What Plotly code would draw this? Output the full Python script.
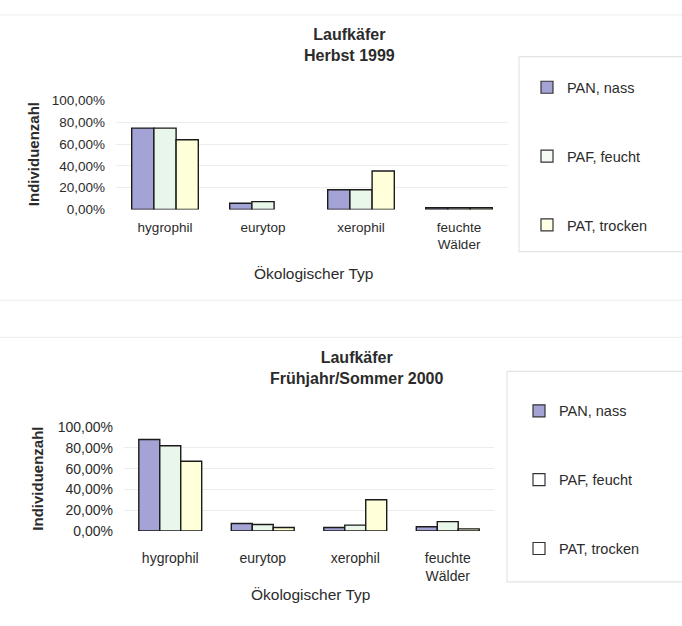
import plotly.graph_objects as go

W, H = 682, 626

categories = ["hygrophil", "eurytop", "xerophil", "feuchte<br>Wälder"]
series_names = ["PAN, nass", "PAF, feucht", "PAT, trocken"]

# Anteile je ökologischem Typ, Herbst 1999 (None = keine Tiere)
herbst_1999 = {
    "PAN, nass":    [0.747, 0.057, 0.180, 0.015],
    "PAF, feucht":  [0.747, 0.072, 0.180, 0.015],
    "PAT, trocken": [0.640, None, 0.353, 0.015],
}
# Anteile je ökologischem Typ, Frühjahr/Sommer 2000
sommer_2000 = {
    "PAN, nass":    [0.880, 0.072, 0.034, 0.040],
    "PAF, feucht":  [0.820, 0.063, 0.056, 0.090],
    "PAT, trocken": [0.670, 0.034, 0.300, 0.020],
}

bar_colors = {"PAN, nass": "#a3a3d6", "PAF, feucht": "#e9f6ea", "PAT, trocken": "#ffffd9"}
swatch_top = {"PAN, nass": "#a3a3d6", "PAF, feucht": "#f4faf4", "PAT, trocken": "#ffffe6"}
swatch_bottom = {"PAN, nass": "#a3a3d6", "PAF, feucht": "#ffffff", "PAT, trocken": "#ffffff"}

TXT = "#2b2b2b"
FONT = "Liberation Sans, Arial, sans-serif"


def px_x(x):
    return x / W


def px_y(y):
    return 1 - y / H


fig = go.Figure()

panels = [
    # data, x axis, y axis, legend, x-px domain, y-px (0 %, 100 %), swatches,
    # tick font size, category label standoff
    (herbst_1999, "x", "y", "legend", (116, 508), (206.7, 95.0), swatch_top, 13.5, 8),
    (sommer_2000, "x2", "y2", "legend2", (124, 494), (536.7, 430.0), swatch_bottom, 14, 17),
]

for data, xa, ya, lg, _, _, swatch, _, _ in panels:
    for name in series_names:
        fig.add_trace(go.Bar(
            x=categories, y=data[name], name=name,
            xaxis=xa, yaxis=ya, showlegend=False, offsetgroup=name,
            marker=dict(color=bar_colors[name], line=dict(color="#1a1a1a", width=1.4)),
        ))
    # legend entries with the swatch shading of each box
    for name in series_names:
        fig.add_trace(go.Bar(
            x=[None], y=[None], name=name, xaxis=xa, yaxis=ya, legend=lg,
            offsetgroup=name,
            marker=dict(color=swatch[name], line=dict(color="#333333", width=1.2)),
            legendgroup=lg + name, hoverinfo="skip",
        ))

for i, (data, xa, ya, lg, xdom, ydom, _, fs, stand) in enumerate(panels):
    sfx = "" if i == 0 else "2"
    tf = dict(family=FONT, size=fs, color=TXT)
    fig.update_layout(**{
        "xaxis" + sfx: dict(
            domain=[px_x(xdom[0]), px_x(xdom[1])], anchor=ya,
            showgrid=False, showline=False, zeroline=False, ticks="",
            ticklabelstandoff=stand, tickfont=tf),
        "yaxis" + sfx: dict(
            domain=[px_y(ydom[0]), px_y(ydom[1])], anchor=xa,
            range=[0, 1.0], dtick=0.2, tickformat=".2%",
            showgrid=True, gridcolor="#ececec", gridwidth=1,
            showline=False, zeroline=False, ticks="",
            ticklabelstandoff=10, tickfont=tf),
    })

# legends sit inside their own framed boxes on the right
legend_common = dict(
    bgcolor="rgba(0,0,0,0)", borderwidth=0,
    font=dict(family=FONT, size=14.5, color=TXT),
    itemwidth=30, tracegroupgap=47,
    xanchor="left", yanchor="top", traceorder="grouped",
)
fig.update_layout(
    legend=dict(x=px_x(527), y=px_y(65), **legend_common),
    legend2=dict(x=px_x(519), y=px_y(397), **legend_common),
)

shapes = [
    dict(type="rect", xref="paper", yref="paper",
         x0=px_x(519), x1=px_x(690), y0=px_y(250), y1=px_y(50),
         line=dict(color="#e4e4e4", width=1.2)),
    dict(type="rect", xref="paper", yref="paper",
         x0=px_x(507), x1=px_x(690), y0=px_y(589), y1=px_y(373),
         line=dict(color="#e4e4e4", width=1.2)),
]
for yy in (7, 300, 338):
    shapes.append(dict(type="line", xref="paper", yref="paper",
                       x0=0, x1=1, y0=px_y(yy), y1=px_y(yy),
                       line=dict(color="#efefef", width=1.2)))

annotations = [
    dict(text="<b>Laufkäfer<br>Herbst 1999</b>", x=px_x(349), y=px_y(38), size=16),
    dict(text="<b>Laufkäfer<br>Frühjahr/Sommer 2000</b>", x=px_x(357), y=px_y(369), size=16),
    dict(text="<b>Individuenzahl</b>", x=px_x(33), y=px_y(150), textangle=-90, size=15),
    dict(text="<b>Individuenzahl</b>", x=px_x(38), y=px_y(483), textangle=-90, size=15),
    dict(text="Ökologischer Typ", x=px_x(313), y=px_y(272), size=15.5),
    dict(text="Ökologischer Typ", x=px_x(310), y=px_y(602), size=15.5),
]
for a in annotations:
    size = a.pop("size")
    a.update(xref="paper", yref="paper", showarrow=False,
             xanchor="center", yanchor="middle",
             font=dict(family=FONT, size=size, color=TXT))

fig.update_layout(
    width=W, height=H, margin=dict(l=0, r=0, t=0, b=0),
    paper_bgcolor="white", plot_bgcolor="white",
    separators=",.", barmode="group", bargap=0.32, bargroupgap=0,
    shapes=shapes, annotations=annotations, showlegend=True,
)

fig.write_html("out.html")
